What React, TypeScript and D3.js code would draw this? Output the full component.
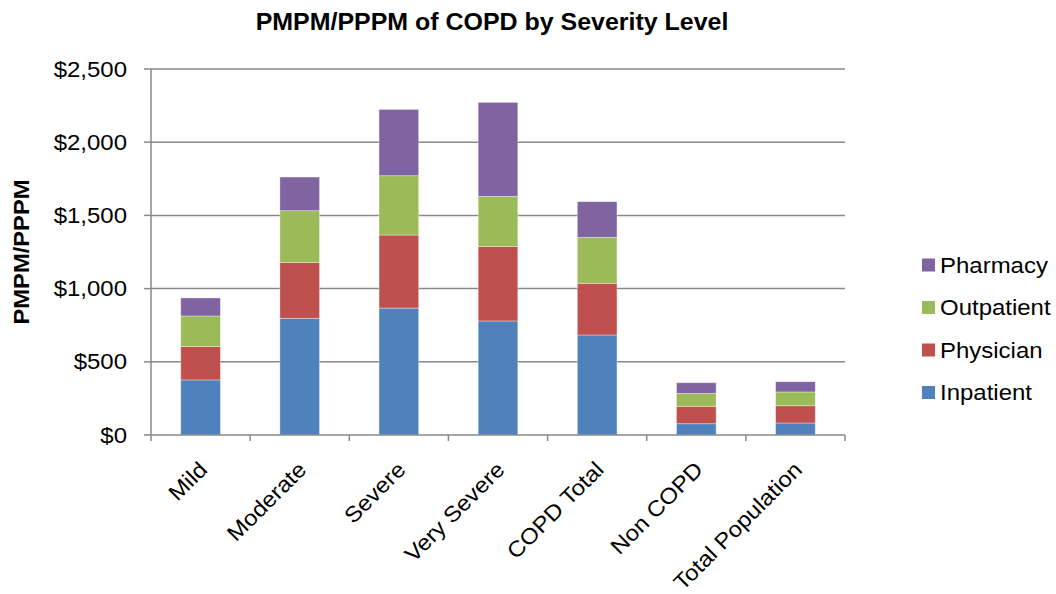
import React from "react";
import * as d3 from "d3";

const categories = ["Mild", "Moderate", "Severe", "Very Severe", "COPD Total", "Non COPD", "Total Population"];
const seriesNames = ["Inpatient", "Physician", "Outpatient", "Pharmacy"];
const inpatient = [376, 797, 867, 779, 683, 77, 82];
const physician = [229, 382, 499, 509, 353, 119, 118];
const outpatient = [208, 353, 405, 342, 314, 88, 94];
const pharmacy = [123, 230, 453, 642, 244, 73, 70];
const colors = ["#4F81BD", "#C0504D", "#9BBB59", "#8064A2"];
const yTicks = [0, 500, 1000, 1500, 2000, 2500];

const W = 1056, H = 594;
const plot = { left: 151, right: 845, top: 69, bottom: 435 };
const FONT = "'Liberation Sans', Arial, Helvetica, sans-serif";
const SX = 1.09;

function T(props: { x: number; y: number; rot?: number; sx?: number; anchor?: string; size: number; bold?: boolean; children: any }) {
  const { x, y, rot = 0, sx = SX, anchor = "start", size, bold, children } = props;
  return (
    <text
      transform={`translate(${x},${y}) rotate(${rot}) scale(${sx},1)`}
      textAnchor={anchor}
      fontSize={size}
      fontWeight={bold ? "bold" : "normal"}
      fill="#000"
      style={{ fontFamily: FONT }}
    >
      {children}
    </text>
  );
}

export default function App() {
  const seriesVals = [inpatient, physician, outpatient, pharmacy];
  const rows = categories.map((c, i) => {
    const r: any = { cat: c };
    seriesNames.forEach((s, j) => (r[s] = seriesVals[j][i]));
    return r;
  });
  const stacked = d3.stack().keys(seriesNames)(rows);
  const x = d3.scaleBand().domain(categories).range([plot.left, plot.right]).paddingInner(0.6).paddingOuter(0.3);
  const y = d3.scaleLinear().domain([0, 2500]).range([plot.bottom, plot.top]);
  const step = (plot.right - plot.left) / categories.length;
  const fmt = (v: number) => "$" + d3.format(",")(v);
  const legendOrder = [3, 2, 1, 0];
  const fs = 22;

  return (
    <svg width={W} height={H} style={{ position: "absolute", left: 0, top: 0, background: "#fff" }}>
      <T x={492} y={30} anchor="middle" size={24} bold sx={1.04}>
        PMPM/PPPM of COPD by Severity Level
      </T>
      <T x={29} y={252} rot={-90} anchor="middle" size={22} bold sx={1.08}>
        PMPM/PPPM
      </T>
      {yTicks.map((t) => (
        <g key={t}>
          {t > 0 && <line x1={plot.left} x2={plot.right} y1={y(t)} y2={y(t)} stroke="#888" strokeWidth={1.5} />}
          <line x1={plot.left - 7} x2={plot.left} y1={y(t)} y2={y(t)} stroke="#888" strokeWidth={1.5} />
          <T x={127} y={y(t) + 7.5} anchor="end" size={fs}>
            {fmt(t)}
          </T>
        </g>
      ))}
      {stacked.map((s, j) => (
        <g key={s.key} fill={colors[j]}>
          {s.map((d, i) => (
            <rect
              key={i}
              x={x(categories[i])}
              width={x.bandwidth()}
              y={y(d[1])}
              height={y(d[0]) - y(d[1])}
              stroke="rgba(255,255,255,0.45)"
              strokeWidth={0.8}
            />
          ))}
        </g>
      ))}
      <line x1={plot.left} x2={plot.left} y1={plot.top} y2={plot.bottom} stroke="#888" strokeWidth={1.5} />
      <line x1={plot.left} x2={plot.right} y1={plot.bottom} y2={plot.bottom} stroke="#888" strokeWidth={1.5} />
      {d3.range(categories.length + 1).map((i) => (
        <line key={i} x1={plot.left + i * step} x2={plot.left + i * step} y1={plot.bottom} y2={plot.bottom + 6} stroke="#888" strokeWidth={1.5} />
      ))}
      {categories.map((c) => {
        const cx = (x(c) as number) + x.bandwidth() / 2;
        return (
          <T key={c} x={cx + 8} y={471} rot={-45} anchor="end" size={fs}>
            {c}
          </T>
        );
      })}
      {legendOrder.map((j, k) => (
        <g key={j}>
          <rect x={922} y={265 + k * 42.5 - 6.5} width={13} height={13} fill={colors[j]} />
          <T x={940} y={265 + k * 42.5 + 7.5} size={fs}>
            {seriesNames[j]}
          </T>
        </g>
      ))}
    </svg>
  );
}
